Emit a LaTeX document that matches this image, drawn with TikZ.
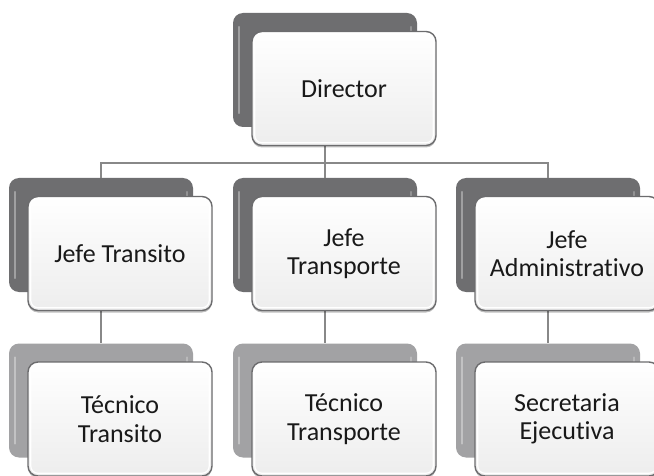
\documentclass[tikz,border=0pt]{standalone}
\usepackage{fontspec}
\setmainfont{Carlito}[Ligatures=NoCommon]
\usetikzlibrary{shadows}
\definecolor{backdark}{HTML}{6E6E70}
\definecolor{backlight}{HTML}{A2A2A4}
\definecolor{frontline}{HTML}{6C6C6E}
\definecolor{conn}{HTML}{888888}
\definecolor{frontbot}{HTML}{EDEDED}
\tikzset{
  backbox/.style={rounded corners=10pt, minimum width=184pt, minimum height=114pt, inner sep=0pt, fill=#1},
  frontbox/.style={rounded corners=10pt, minimum width=184pt, minimum height=114pt, inner sep=0pt,
    draw=frontline, line width=1.4pt, top color=white, bottom color=frontbot,
    drop shadow={shadow xshift=0pt, shadow yshift=-2pt, opacity=0.25, fill=black},
    align=center, text=black!90, font=\fontsize{26}{28.5}\selectfont},
  connector/.style={draw=conn, line width=2pt},
}
\newcommand{\orgbox}[4]{% name, x, y, backcolor
  \node[backbox=#4] (#1B) at (#2,#3) {};
  \draw[white, opacity=0.35, line width=2pt, line cap=round] ([xshift=6pt,yshift=-14pt]#1B.north west) -- ([xshift=6pt,yshift=14pt]#1B.south west);
  \draw[white, opacity=0.25, line width=2pt, line cap=round] ([xshift=-6pt,yshift=-14pt]#1B.north east) -- ([xshift=-6pt,yshift=14pt]#1B.south east);
}
\newcommand{\orgfront}[4]{% name, x, y, text
  \node[frontbox] (#1F) at (#2+19,#3+18.5) {#4};
  \draw[white, line width=1.2pt, rounded corners=7pt] ([xshift=3.5pt,yshift=-3.5pt]#1F.north west) rectangle ([xshift=-3.5pt,yshift=3.5pt]#1F.south east);
}
\begin{document}
\begin{tikzpicture}[x=1pt,y=-1pt]
\useasboundingbox (0,0) rectangle (654,476);
\fill[white] (0,0) rectangle (654,476);
% back boxes
\orgbox{dir}{325}{70}{backdark}
\orgbox{ja}{101}{235}{backdark}
\orgbox{jb}{325}{235}{backdark}
\orgbox{jc}{548}{235}{backdark}
\orgbox{ta}{101}{400.5}{backlight}
\orgbox{tb}{325}{400.5}{backlight}
\orgbox{tc}{548}{400.5}{backlight}
% connectors
\coordinate (bus) at (325,163);
\draw[connector] (dirB.south) -- (bus);
\draw[connector] (bus) -| (jaB.north);
\draw[connector] (bus) -- (jbB.north);
\draw[connector] (bus) -| (jcB.north);
\draw[connector] (jaB.south) -- (taB.north);
\draw[connector] (jbB.south) -- (tbB.north);
\draw[connector] (jcB.south) -- (tcB.north);
% front boxes
\orgfront{dir}{325}{70}{Director}
\orgfront{ja}{101}{235}{Jefe Transito}
\orgfront{jb}{325}{235}{Jefe\\Transporte}
\orgfront{jc}{548}{235}{Jefe\\Administrativo}
\orgfront{ta}{101}{400.5}{Técnico\\Transito}
\orgfront{tb}{325}{400.5}{Técnico\\Transporte}
\orgfront{tc}{548}{400.5}{Secretaria\\Ejecutiva}
\end{tikzpicture}
\end{document}
